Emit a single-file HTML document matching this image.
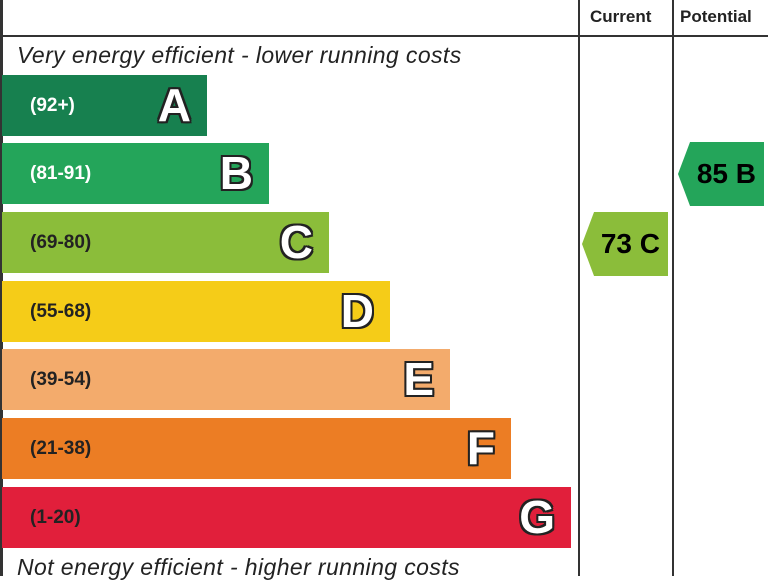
<!DOCTYPE html>
<html><head><style>
body{margin:0;width:768px;height:576px;background:#fff;position:relative;overflow:hidden;font-family:"Liberation Sans",sans-serif}
.l{position:absolute;background:#333}
.bar{position:absolute;left:2px;height:61px}
.rng{position:absolute;left:28px;top:0;line-height:61px;font-size:19px;font-weight:bold}
.let{position:absolute;right:16px;top:0;line-height:61px;font-size:46px;font-weight:bold;color:#fff;text-shadow:-2px -2px 0 #222,2px -2px 0 #222,-2px 2px 0 #222,2px 2px 0 #222,0 2px 0 #222,0 -2px 0 #222,2px 0 0 #222,-2px 0 0 #222}
.it{position:absolute;left:17px;font-style:italic;font-size:23px;color:#222;letter-spacing:0.4px}
.hd{position:absolute;top:7px;font-size:17px;font-weight:bold;color:#222}
.bd{position:absolute;height:64px;font-weight:bold;font-size:28px;color:#000;line-height:64px;text-align:right;padding-right:8px;box-sizing:border-box;clip-path:polygon(14% 0,100% 0,100% 100%,14% 100%,0 50%)}
</style></head><body>
<div class="l" style="left:0;top:0;width:3px;height:576px"></div>
<div class="l" style="left:0;top:35px;width:768px;height:2px"></div>
<div class="l" style="left:578px;top:0;width:2px;height:576px"></div>
<div class="l" style="left:672px;top:0;width:2px;height:576px"></div>
<div class="hd" style="left:590px">Current</div>
<div class="hd" style="left:680px">Potential</div>
<div class="it" style="top:42px">Very energy efficient - lower running costs</div>
<div class="it" style="top:554px">Not energy efficient - higher running costs</div>
<div class="bar" style="top:75px;width:205px;background:#17804f"><span class="rng" style="color:#fff">(92+)</span><span class="let">A</span></div>
<div class="bar" style="top:143px;width:267px;background:#24a55a"><span class="rng" style="color:#fff">(81-91)</span><span class="let">B</span></div>
<div class="bar" style="top:212px;width:327px;background:#8bbd3a"><span class="rng" style="color:#222">(69-80)</span><span class="let">C</span></div>
<div class="bar" style="top:281px;width:388px;background:#f5cc18"><span class="rng" style="color:#222">(55-68)</span><span class="let">D</span></div>
<div class="bar" style="top:349px;width:448px;background:#f3ab6c"><span class="rng" style="color:#222">(39-54)</span><span class="let">E</span></div>
<div class="bar" style="top:418px;width:509px;background:#ec7d24"><span class="rng" style="color:#222">(21-38)</span><span class="let">F</span></div>
<div class="bar" style="top:487px;width:569px;background:#e11f3b"><span class="rng" style="color:#222">(1-20)</span><span class="let">G</span></div>
<div class="bd" style="left:582px;top:212px;width:86px;background:#8bbd3a">73 C</div>
<div class="bd" style="left:678px;top:142px;width:86px;background:#24a55a">85 B</div>
</body></html>
